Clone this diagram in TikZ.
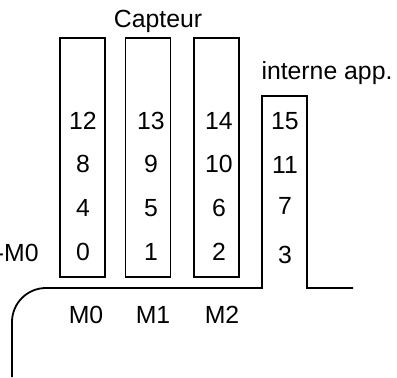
\documentclass[tikz,border=0pt]{standalone}
\usepackage{fontspec}
\setmainfont{Liberation Sans}
\usepackage{tikz}
\usetikzlibrary{positioning}

\begin{document}
\begin{tikzpicture}[
    x=0.5pt, y=0.5pt,
    boks/.style = {rectangle, draw, line width=0.9pt, minimum width=22.5pt, minimum height=119.5pt, inner sep=0pt},
    tal/.style = {inner sep=0pt},
    kant/.style = {line width=0.9pt},
    font=\fontsize{12.4}{14}\selectfont
    ]
  \useasboundingbox (0,0) rectangle (397,377);

  % memory banks
  \node[boks] (m0) at (82.5,219.5) {} ;
  \node[boks] (m1) at (148,219.5) {} ;
  \node[boks] (m2) at (216.5,219.5) {} ;

  % outline of the internal app memory
  \draw[kant] (12,0) [rounded corners=17pt] -- (12,89) [sharp corners]
    -- (262,89) -- (262,281) -- (307,281) -- (307,89) -- (353,89) ;

  \node[] (capteur) at (158,356) {Capteur} ;
  \node[] (interne) at (327,304) {interne app.} ;
  \node[tal, anchor=east] (sel) at (39,124) {-M0} ;

  % addresses
  \node[tal] (a12) at (83,256) {12} ;
  \node[tal] (a8) at (83,213) {8} ;
  \node[tal] (a4) at (83,169) {4} ;
  \node[tal] (a0) at (83,125) {0} ;

  \node[tal] (a13) at (151,256) {13} ;
  \node[tal] (a9) at (151,213) {9} ;
  \node[tal] (a5) at (151,169) {5} ;
  \node[tal] (a1) at (151,125) {1} ;

  \node[tal] (a14) at (219,256) {14} ;
  \node[tal] (a10) at (219,213) {10} ;
  \node[tal] (a6) at (219,169) {6} ;
  \node[tal] (a2) at (219,125) {2} ;

  \node[tal] (a15) at (285,256) {15} ;
  \node[tal] (a11) at (285,212) {11} ;
  \node[tal] (a7) at (285,171) {7} ;
  \node[tal] (a3) at (285,122) {3} ;

  \node[] (lm0) at (86,62) {M0} ;
  \node[] (lm1) at (153,62) {M1} ;
  \node[] (lm2) at (222,62) {M2} ;
\end{tikzpicture}
\end{document}
